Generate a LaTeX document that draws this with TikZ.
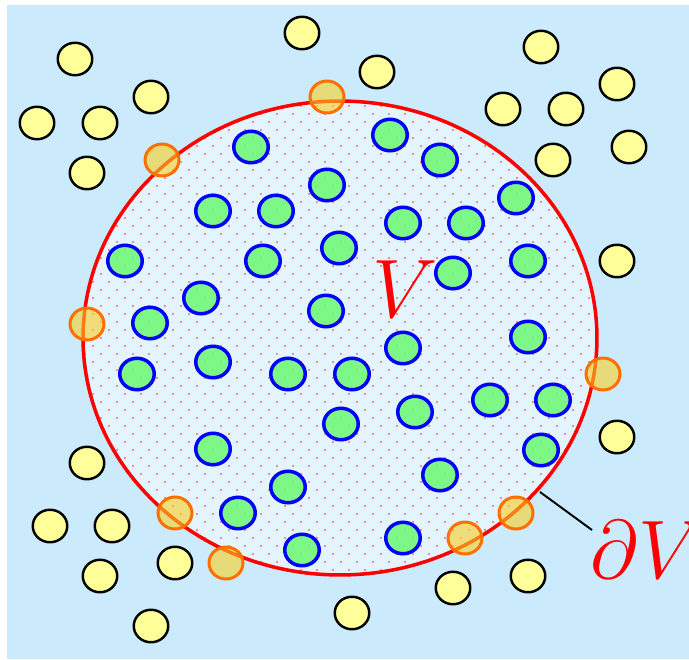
\documentclass[tikz,border=0pt]{standalone}
\usetikzlibrary{shapes.geometric}
\definecolor{bgblue}{RGB}{203,235,252}
\definecolor{inblue}{RGB}{228,244,253}
\definecolor{ballyellow}{RGB}{255,255,153}
\definecolor{ballgreen}{RGB}{114,248,122}
\definecolor{wallgold}{RGB}{248,207,35}
\definecolor{wallorange}{RGB}{255,111,0}
\definecolor{dotred}{RGB}{240,105,125}
\begin{document}
\begin{tikzpicture}[x=0.02cm, y=-0.02cm,
  freeball/.style={ellipse, draw=black, line width=1.4pt, fill=ballyellow, inner sep=0pt, minimum width=0.69cm, minimum height=0.65cm},
  innerball/.style={ellipse, draw=blue, line width=2pt, fill=ballgreen, fill opacity=0.9, draw opacity=1, inner sep=0pt, minimum width=0.69cm, minimum height=0.63cm},
  wallball/.style={ellipse, draw=wallorange, line width=1.7pt, fill=wallgold, fill opacity=0.6, draw opacity=1, inner sep=0pt, minimum width=0.68cm, minimum height=0.64cm},
  biglabel/.style={text=red, font=\Huge, scale=1.9}]
\useasboundingbox (0,0) rectangle (689,659);
\fill[bgblue] (7,5) rectangle (689,659);
% region V with its dot pattern
\fill[inblue] (340,338) ellipse [x radius=5.14cm, y radius=4.74cm];
\begin{scope}
\clip (340,338) ellipse [x radius=5.14cm, y radius=4.74cm];
\foreach \j in {0,...,60}{
  \pgfmathsetmacro\xo{69+8*mod(\j,2)}
  \foreach \k in {0,...,34}
    \fill[dotred] (\xo+16*\k, 98+8*\j) circle (0.7pt);
}
\end{scope}
% particles inside
\foreach \p [count=\i] in {(251,147),(390,135),(440,160),(327,185),(516,198),(213,211),(276,211),(403,223),(466,223),(125,261),(263,261),(339,248),(528,261),(453,273),(201,298),(326,311),(150,323),(528,337),(403,348),(137,374),(213,362),(288,374),(352,374),(490,400),(553,400),(415,412),(341,424),(541,450),(213,449),(440,475),(288,487),(238,513),(403,538),(302,550)}
  \node[innerball] (g\i) at \p {};
% boundary dV
\draw[red, line width=2pt] (340,338) ellipse [x radius=5.14cm, y radius=4.74cm];
% particles outside
\foreach \p [count=\i] in {(75,59),(151,97),(37,123),(100,123),(87,173),(302,33),(377,72),(541,47),(617,84),(503,109),(566,109),(553,160),(629,147),(617,261),(617,437),(528,576),(453,588),(352,613),(87,463),(50,526),(112,526),(100,576),(175,563),(151,626)}
  \node[freeball] (y\i) at \p {};
% particles on the boundary
\foreach \p [count=\i] in {(327,97),(162,160),(87,324),(603,374),(516,513),(465,538),(175,513),(226,563)}
  \node[wallball] (w\i) at \p {};
% labels
\node[biglabel, anchor=base] (vol) at (405,317) {$V$};
\node[biglabel, anchor=base west, inner sep=0pt] (bnd) at (590,578) {$\partial V$};
\coordinate (tip) at (540,492);
\coordinate (foot) at (592,530);
\draw[line width=1.1pt] (tip) -- (foot);
\end{tikzpicture}
\end{document}
